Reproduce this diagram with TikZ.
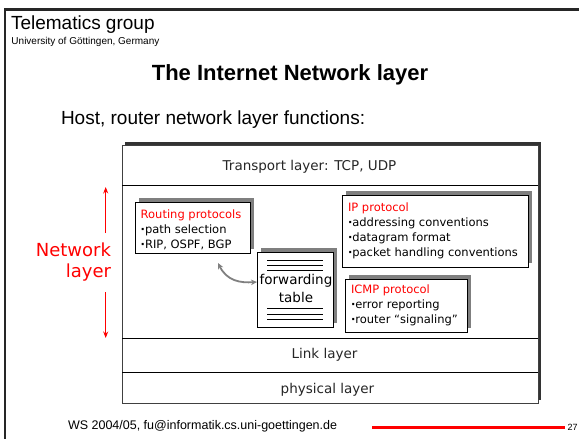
\documentclass[tikz,border=0pt]{standalone}
\usepackage{fontspec}
\setmainfont{Liberation Sans}
\newfontfamily\comic{DejaVu Sans}
\usetikzlibrary{arrows.meta,shadows}
\definecolor{shgray}{HTML}{7F7F7F}
\definecolor{shdark}{HTML}{333333}
\newcommand{\bul}{\textbf{·}}
\begin{document}
\begin{tikzpicture}[x=1pt,y=-1pt,inner sep=0pt,outer sep=0pt,
  lay/.style={font=\comic\fontsize{13.5}{16}\selectfont, anchor=base, text=black!85},
  pbox/.style={draw=black, line width=0.9pt, fill=white, anchor=north west,
    drop shadow={shadow xshift=4pt, shadow yshift=4pt, fill=shgray, opacity=1}},
  ptxt/.style={font=\comic\fontsize{11.5}{15}\selectfont, align=left, anchor=north west},
  tline/.style={line width=0.9pt, black},
  divline/.style={line width=0.9pt, black},
  redarrow/.style={red, line width=1.3pt, -{Stealth[length=6.5pt,width=5pt]}},
  grayarrow/.style={black!50, line width=1.8pt, {Stealth[length=6pt,width=5.5pt]}-{Stealth[length=6pt,width=5.5pt]}}
]
\useasboundingbox (0,0) rectangle (579,439);
\fill[white] (0,0) rectangle (579,439);
% frame
\draw[line width=2.2pt, black!85] (579,9.5) -- (5.3,9.5) -- (5.3,439);
% header
\node[anchor=base west, font=\fontsize{19}{22}\selectfont] (tg) at (11,30) {Telematics group};
\node[anchor=base west, font=\fontsize{10}{12}\selectfont] (uni) at (11.5,45) {University of Göttingen, Germany};
\node[anchor=base, font=\bfseries\fontsize{22}{26}\selectfont] (title) at (290,80) {The Internet Network layer};
\node[anchor=base west, font=\fontsize{19}{22}\selectfont] (host) at (61,124) {Host, router network layer functions:};
% main stack box
\node[draw=black!75, line width=1pt, fill=white, minimum width=416pt, minimum height=258pt, anchor=north west,
  drop shadow={shadow xshift=3pt, shadow yshift=3pt, fill=shdark, opacity=1}] (stack) at (122,145) {};
\draw[divline] (122,185) -- (538,185);
\draw[divline] (122,338) -- (538,338);
\draw[divline] (122,372) -- (538,372);
\node[lay] (tl) at (309.5,170) {Transport layer: TCP, UDP};
\node[lay] (ll) at (324.5,358) {Link layer};
\node[lay] (pl) at (327.5,393) {physical layer};
% network layer label and arrows
\node[font=\comic\fontsize{18}{21.3}\selectfont, text=red, align=right, anchor=north east] (nl) at (111,243) {Network\\layer};
\coordinate (nu0) at (105.7,233);
\coordinate (nu1) at (105.7,187);
\coordinate (nd0) at (105.7,292);
\coordinate (nd1) at (105.7,338);
\draw[redarrow] (nu0) -- (nu1);
\draw[redarrow] (nd0) -- (nd1);
% routing protocols
\node[pbox, minimum width=115pt, minimum height=51pt] (rout) at (135,202) {};
\node[ptxt] (routt) at (140.7,209.3) {\textcolor{red}{Routing protocols}\\\bul path selection\\\bul RIP, OSPF, BGP};
% IP protocol
\node[pbox, minimum width=186pt, minimum height=72pt] (ip) at (342,195) {};
\node[ptxt] (ipt) at (348,203) {\textcolor{red}{IP protocol}\\\bul addressing conventions\\\bul datagram format\\\bul packet handling conventions};
% ICMP protocol
\node[pbox, minimum width=122pt, minimum height=53pt] (icmp) at (345,279) {};
\node[ptxt] (icmpt) at (351,284.5) {\textcolor{red}{ICMP protocol}\\\bul error reporting\\\bul router “signaling”};
% forwarding table
\node[pbox, minimum width=76pt, minimum height=75pt] (fwd) at (257,252) {};
\draw[tline] (267,260) -- (323,260);
\draw[tline] (267,265) -- (323,265);
\draw[tline] (267,270) -- (323,270);
\draw[tline] (267,308) -- (323,308);
\draw[tline] (267,314) -- (323,314);
\draw[tline] (267,319) -- (323,319);
\node[font=\comic\fontsize{13.5}{17.7}\selectfont, align=center, anchor=north] (fwdt) at (296,274.7) {forwarding\\table};
% curved arrow
\coordinate (ga) at ([xshift=-32pt,yshift=-10pt]rout.south east);
\coordinate (gb) at ([yshift=7.5pt]fwd.west);
\draw[grayarrow] (ga) .. controls (227,281) and (240,283) .. (gb);
% footer
\node[anchor=base west, font=\fontsize{12.5}{15}\selectfont] (ft) at (68,429) {WS 2004/05, fu@informatik.cs.uni-goettingen.de};
\fill[red] (372,425.5) rectangle (565,429);
\node[anchor=base west, font=\fontsize{9}{10}\selectfont] (pg) at (567.5,430.5) {27};
\end{tikzpicture}
\end{document}
